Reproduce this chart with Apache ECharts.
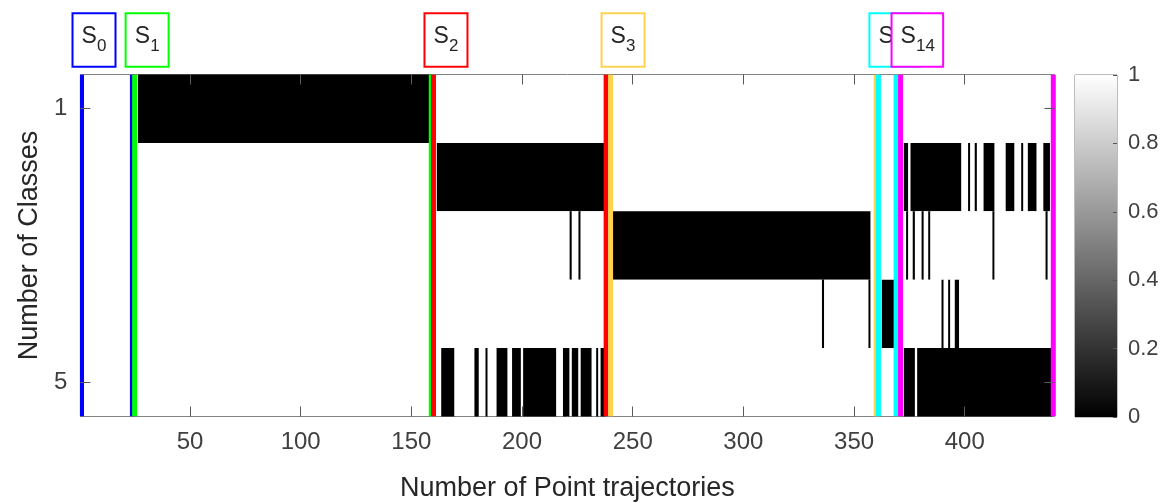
<!DOCTYPE html>
<html>
<head>
<meta charset="utf-8">
<script src="https://cdn.jsdelivr.net/npm/echarts@6/dist/echarts.min.js"></script>
<style>
  html, body { margin: 0; padding: 0; background: #ffffff; }
  #chart { width: 1166px; height: 503px; }
</style>
</head>
<body>
<div id="chart"></div>
<script>
// ---- data ----
const trajectoryCount = 440;
const classRows = [1, 2, 3, 4, 5];
const xTickValues = [50, 100, 150, 200, 250, 300, 350, 400];
const yTickValues = [1, 5];
const colorbarTicks = [0, 0.2, 0.4, 0.6, 0.8, 1];

// Trajectory runs [first, last] whose value is 0 in each class row; every other cell is 1
const class1Zero = [[27, 158]];
const class2Zero = [[162, 237], [373, 374], [376, 398], [402, 402], [405, 405], [409, 413],
                    [419, 422], [426, 426], [429, 432], [436, 438]];
const class3Zero = [[222, 222], [226, 226], [241, 357], [374, 374], [377, 377], [381, 381],
                    [384, 384], [413, 413], [437, 437]];
const class4Zero = [[336, 336], [357, 357], [363, 368], [390, 390], [393, 393], [396, 397]];
const class5Zero = [[164, 169], [179, 180], [184, 184], [189, 193], [196, 199], [201, 215],
                    [219, 221], [223, 225], [227, 231], [234, 234], [236, 237], [373, 377],
                    [379, 439]];

// Segments of the trajectory sequence and their boundary colours
const segmentLabels = ['0', '1', '2', '3', '13', '14'];
const segmentStart = [1, 25, 160, 240, 361, 371];
const segmentEnd = [24, 159, 238, 360, 369, 440];
const segmentColors = ['#0000ff', '#00ff00', '#ff0000', '#ffd24f', '#00ffff', '#ff00ff'];

// ---- build series data ----
const zeroRuns = [class1Zero, class2Zero, class3Zero, class4Zero, class5Zero];
const cellRuns = [];
zeroRuns.forEach((runs, i) => {
  const row = classRows[i];
  let next = 1;
  runs.forEach(([a, b]) => {
    if (a > next) cellRuns.push([next, a - 1, row, 1]);
    cellRuns.push([a, b, row, 0]);
    next = b + 1;
  });
  if (next <= trajectoryCount) cellRuns.push([next, trajectoryCount, row, 1]);
});

const boundaryLines = [];
segmentStart.forEach((s, i) => {
  boundaryLines.push([s, i]);
  boundaryLines.push([segmentEnd[i], i]);
});
const labelItems = segmentStart.map((s, i) => [s, i]);

const FONT = '"Liberation Sans", Arial, Helvetica, sans-serif';
const TEXT = '#262626';
const AXIS = '#5a5a5a';

const chart = echarts.init(document.getElementById('chart'), null, { renderer: 'canvas' });

chart.setOption({
  animation: false,
  backgroundColor: '#ffffff',
  textStyle: { fontFamily: FONT },
  grid: [
    { left: 80.4, top: 74.5, width: 974, height: 342, outerBoundsMode: 'none', containLabel: false,
      show: true, borderColor: AXIS, borderWidth: 1, backgroundColor: 'transparent' },
    { left: 1075, top: 75, width: 42, height: 342, outerBoundsMode: 'none', containLabel: false,
      show: true, borderColor: '#7a7a7a', borderWidth: 1, backgroundColor: 'transparent' }
  ],
  visualMap: {
    show: false,
    type: 'continuous',
    seriesIndex: 0,
    dimension: 3,
    min: colorbarTicks[0],
    max: colorbarTicks[colorbarTicks.length - 1],
    inRange: { color: ['#000000', '#ffffff'] }
  },
  xAxis: [
    {
      gridIndex: 0, type: 'value', position: 'bottom', z: 5,
      min: 0.5, max: trajectoryCount + 0.5,
      axisLine: { show: false, onZero: false },
      splitLine: { show: false },
      axisTick: { show: true, inside: true, length: 10, customValues: xTickValues, lineStyle: { color: AXIS } },
      axisLabel: { customValues: xTickValues, fontSize: 24, color: '#404040', margin: 14, fontFamily: FONT },
      name: 'Number of Point trajectories', nameLocation: 'middle', nameGap: 59,
      nameTextStyle: { fontSize: 27, color: TEXT, fontFamily: FONT }
    },
    {
      gridIndex: 0, type: 'value', position: 'top', z: 5,
      min: 0.5, max: trajectoryCount + 0.5,
      axisLine: { show: false, onZero: false },
      splitLine: { show: false },
      axisTick: { show: true, inside: true, length: 10, customValues: xTickValues, lineStyle: { color: AXIS } },
      axisLabel: { show: false }
    },
    {
      gridIndex: 1, type: 'value', min: 0, max: 1, show: false
    }
  ],
  yAxis: [
    {
      gridIndex: 0, type: 'value', position: 'left', inverse: true, z: 5,
      min: 0.5, max: classRows.length + 0.5,
      axisLine: { show: false, onZero: false },
      splitLine: { show: false },
      axisTick: { show: true, inside: true, length: 10, customValues: yTickValues, lineStyle: { color: AXIS } },
      axisLabel: { customValues: yTickValues, fontSize: 24, color: '#404040', margin: 13, fontFamily: FONT },
      name: 'Number of Classes', nameLocation: 'middle', nameGap: 36,
      nameTextStyle: { fontSize: 27, color: TEXT, fontFamily: FONT }
    },
    {
      gridIndex: 0, type: 'value', position: 'right', inverse: true, z: 5,
      min: 0.5, max: classRows.length + 0.5,
      axisLine: { show: false, onZero: false },
      splitLine: { show: false },
      axisTick: { show: true, inside: true, length: 10, customValues: yTickValues, lineStyle: { color: AXIS } },
      axisLabel: { show: false }
    },
    {
      gridIndex: 1, type: 'value', position: 'right', z: 5,
      min: colorbarTicks[0], max: colorbarTicks[colorbarTicks.length - 1], interval: 0.2,
      axisLine: { show: false, onZero: false },
      splitLine: { show: false },
      axisTick: { show: true, inside: true, length: 4, lineStyle: { color: '#555' } },
      axisLabel: { fontSize: 22, color: '#404040', margin: 11, fontFamily: FONT }
    }
  ],
  series: [
    {
      // class membership image
      type: 'custom',
      xAxisIndex: 0, yAxisIndex: 0,
      z: 1,
      clip: true,
      encode: { x: [0, 1], y: 2 },
      data: cellRuns,
      renderItem(params, api) {
        const p0 = api.coord([api.value(0) - 0.5, api.value(2) - 0.5]);
        const p1 = api.coord([api.value(1) + 0.5, api.value(2) + 0.5]);
        return {
          type: 'rect',
          shape: { x: p0[0], y: Math.min(p0[1], p1[1]), width: p1[0] - p0[0], height: Math.abs(p1[1] - p0[1]) },
          style: { fill: api.visual('color') }
        };
      }
    },
    {
      // segment boundary lines
      type: 'custom',
      xAxisIndex: 0, yAxisIndex: 0,
      z: 2,
      clip: true,
      encode: { x: 0 },
      data: boundaryLines,
      renderItem(params, api) {
        const top = api.coord([api.value(0), 0.5]);
        const bottom = api.coord([api.value(0), classRows.length + 0.5]);
        return {
          type: 'line',
          shape: { x1: top[0], y1: top[1], x2: bottom[0], y2: bottom[1] },
          style: { stroke: segmentColors[api.value(1)], lineWidth: 5 }
        };
      }
    },
    {
      // segment name boxes above the plot
      type: 'custom',
      xAxisIndex: 0, yAxisIndex: 0,
      z: 3,
      clip: false,
      encode: { x: 0 },
      data: labelItems,
      renderItem(params, api) {
        const idx = api.value(1);
        const p = api.coord([api.value(0), 0.5]);
        const sub = segmentLabels[idx];
        const w = sub.length > 1 ? 51.6 : 43;
        const h = 53.4;
        const x = p[0] - 9;
        const y = p[1] - 61.2;
        return {
          type: 'group',
          children: [
            { type: 'rect', shape: { x: x, y: y, width: w, height: h },
              style: { fill: '#ffffff', stroke: segmentColors[idx], lineWidth: 2 } },
            { type: 'text', x: x + 9, y: y + 23,
              style: { text: 'S', fill: TEXT, font: '23px ' + FONT, textAlign: 'left', textVerticalAlign: 'middle' } },
            { type: 'text', x: x + 24.5, y: y + 33.5,
              style: { text: sub, fill: TEXT, font: '17px ' + FONT, textAlign: 'left', textVerticalAlign: 'middle' } }
          ]
        };
      }
    },
    {
      // colour scale bar
      type: 'custom',
      xAxisIndex: 2, yAxisIndex: 2,
      z: 1,
      clip: true,
      data: [[0, colorbarTicks[0], 1, colorbarTicks[colorbarTicks.length - 1]]],
      renderItem(params, api) {
        const p0 = api.coord([api.value(0), api.value(1)]);
        const p1 = api.coord([api.value(2), api.value(3)]);
        return {
          type: 'rect',
          shape: { x: p0[0], y: p1[1], width: p1[0] - p0[0], height: p0[1] - p1[1] },
          style: {
            fill: new echarts.graphic.LinearGradient(0, 1, 0, 0, [
              { offset: 0, color: '#000000' },
              { offset: 1, color: '#ffffff' }
            ])
          }
        };
      }
    }
  ]
});
</script>
</body>
</html>
